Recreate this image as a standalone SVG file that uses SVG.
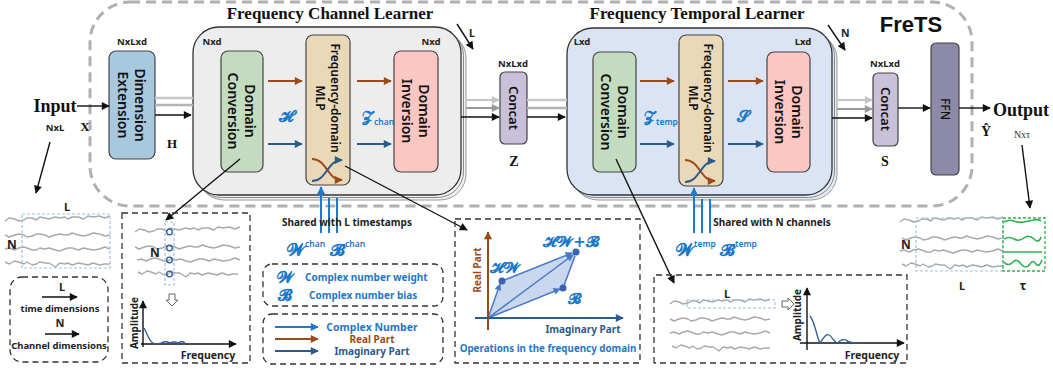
<svg xmlns="http://www.w3.org/2000/svg" width="1053" height="375" viewBox="0 0 1053 375">
<style>
.blk{font-family:"Noto Sans","Open Sans","Liberation Sans",sans-serif;font-weight:600;fill:#111}
.ttl{font-family:"Liberation Serif","DejaVu Serif",serif;font-weight:700;font-size:17px;fill:#111}
.ser{font-family:"Liberation Serif","DejaVu Serif",serif;font-weight:700;fill:#111}
.dim{font-family:"Noto Sans","Liberation Sans",sans-serif;font-weight:700;font-size:9.5px;fill:#222}
.lbl{font-family:"Noto Sans","Liberation Sans",sans-serif;font-weight:700;fill:#222}
.bl{font-family:"Noto Sans","Liberation Sans",sans-serif;font-weight:700;fill:#1f78c8}
.math{font-family:"DejaVu Sans","Noto Sans",serif;font-weight:700;fill:#1a78c8}
.sup{font-family:"Noto Sans","Liberation Sans",sans-serif;font-weight:600;font-size:8.5px;fill:#1a78c8}
.wave{fill:none;stroke:#aaa;stroke-width:1.4;stroke-linejoin:round}
.gw{fill:none;stroke:#2eb04e;stroke-width:1.6}
.dash{fill:none;stroke:#333;stroke-width:1.3;stroke-dasharray:6,4}
.bdash{fill:none;stroke:#9cc3e6;stroke-width:1.2;stroke-dasharray:3,2}
.k{stroke:#111;stroke-width:1.4;fill:none}
.br{stroke:#9c4a1a;stroke-width:2;fill:none}
.db{stroke:#2b5a8c;stroke-width:2;fill:none}
.cb{stroke:#1f78c8;stroke-width:2;fill:none}
</style>
<defs>
<marker id="mk" viewBox="0 0 10 10" refX="9" refY="5" markerWidth="10" markerHeight="8" markerUnits="userSpaceOnUse" orient="auto"><path d="M0,0L10,5L0,10z" fill="#111"/></marker>
<marker id="mg" viewBox="0 0 10 10" refX="9" refY="5" markerWidth="10" markerHeight="8" markerUnits="userSpaceOnUse" orient="auto"><path d="M0,0L10,5L0,10z" fill="#999"/></marker>
<marker id="ml" viewBox="0 0 10 10" refX="9" refY="5" markerWidth="10" markerHeight="8" markerUnits="userSpaceOnUse" orient="auto"><path d="M0,0L10,5L0,10z" fill="#c4c4c4"/></marker>
<marker id="mbr" viewBox="0 0 10 10" refX="9" refY="5" markerWidth="10" markerHeight="8" markerUnits="userSpaceOnUse" orient="auto"><path d="M0,0L10,5L0,10z" fill="#9c4a1a"/></marker>
<marker id="mdb" viewBox="0 0 10 10" refX="9" refY="5" markerWidth="10" markerHeight="8" markerUnits="userSpaceOnUse" orient="auto"><path d="M0,0L10,5L0,10z" fill="#2b5a8c"/></marker>
<marker id="mcb" viewBox="0 0 10 10" refX="9" refY="5" markerWidth="10" markerHeight="8" markerUnits="userSpaceOnUse" orient="auto"><path d="M0,0L10,5L0,10z" fill="#1f78c8"/></marker>
<marker id="mpb" viewBox="0 0 10 10" refX="9" refY="5" markerWidth="9" markerHeight="7" markerUnits="userSpaceOnUse" orient="auto"><path d="M0,0L10,5L0,10z" fill="#4a78c8"/></marker>
<path id="w1" d="M0,0 l4,-3 5,1 4,2 5,-1 3,-2 5,0 4,2 3,-3 5,1 4,1 6,-2 4,1 5,-1 3,2 4,-2 6,0 5,2 4,-3 5,1 6,-1 5,2 5,-2"/>
<path id="w2" d="M0,0 l4,2 5,-2 4,-1 5,1 3,2 5,-1 4,-2 3,0 5,1 4,2 6,-2 4,-1 5,1 3,0 4,-2 6,2 5,1 4,-1 5,-2 6,1 5,2 5,-1"/>
<path id="w3" d="M0,0 l4,-1 5,2 4,-2 5,-1 3,1 5,2 4,0 3,-2 5,1 4,-1 6,2 4,1 5,-2 3,-1 4,0 6,2 5,-2 4,1 5,1 6,-1 5,-2 5,2"/>
<path id="w4" d="M0,0 l4,2 5,-3 4,1 5,2 3,-2 5,3 4,-1 3,-2 5,1 4,0 6,4 4,-4 5,1 3,-1 4,2 6,-2 5,1 4,1 5,-2 6,2 5,-1 5,0"/>
</defs>

<rect width="1053" height="375" fill="#fff"/>

<g id="frets">
<rect x="90" y="2" width="882" height="204" rx="40" fill="none" stroke="#b0b0b0" stroke-width="3" stroke-dasharray="10,6"/>
<text x="911" y="32" text-anchor="middle" style="font-family:'Liberation Sans',sans-serif;font-weight:700;font-size:22px;fill:#111">FreTS</text>
</g>

<g id="input">
<text x="55" y="112" text-anchor="middle" class="ser" font-size="18">Input</text>
<text x="85" y="131" text-anchor="middle" class="ser" font-size="13">X</text>
<text x="55" y="131" text-anchor="middle" class="dim">NxL</text>
</g>

<g id="dimext">
<text x="132" y="45" text-anchor="middle" class="dim">NxLxd</text>
<rect x="109" y="51" width="46" height="108" rx="7" fill="#a8c8de" stroke="#444" stroke-width="1.2"/>
<text transform="translate(132,105) rotate(90)" text-anchor="middle" class="blk" font-size="14"><tspan x="0" y="-3">Dimension</tspan><tspan x="0" y="14">Extension</tspan></text>
<text x="172" y="148" text-anchor="middle" class="ser" font-size="13">H</text>
</g>

<g id="fcl">
<text x="330" y="19" text-anchor="middle" class="ttl">Frequency Channel Learner</text>
<rect x="198" y="32" width="268" height="168" rx="26" fill="#f2f2f2" stroke="#999" stroke-width="1"/>
<rect x="195.5" y="29.5" width="268" height="168" rx="26" fill="#f0f0f0" stroke="#888" stroke-width="1"/>
<rect x="193" y="27" width="268" height="168" rx="26" fill="#ededed" stroke="#333" stroke-width="1.3"/>
<text x="212" y="45" text-anchor="middle" class="dim">Nxd</text>
<text x="431" y="45" text-anchor="middle" class="dim">Nxd</text>
</g>
<g id="fcl-conv">
<rect x="221" y="51" width="42" height="121" rx="7" fill="#c3dcc0" stroke="#444" stroke-width="1.2"/>
<text transform="translate(242,111) rotate(90)" text-anchor="middle" class="blk" font-size="14"><tspan x="0" y="-3">Domain</tspan><tspan x="0" y="14">Conversion</tspan></text>
</g>
<g id="fcl-mlp">
<rect x="306" y="35" width="44" height="150" rx="7" fill="#ead9b8" stroke="#444" stroke-width="1.2"/>
<text transform="translate(328,98) rotate(90)" text-anchor="middle" class="blk" font-size="12"><tspan x="0" y="-3">Frequency-domain</tspan><tspan x="0" y="12">MLP</tspan></text>
<path d="M312,159 C327,159 327,180 342,180" class="br" stroke-width="1.8" marker-end="url(#mbr)"/>
<path d="M312,181 C327,181 327,160 342,160" class="db" stroke-width="1.8" marker-end="url(#mdb)"/>
</g>
<g id="fcl-inv">
<rect x="394" y="51" width="44" height="121" rx="7" fill="#fcc7c3" stroke="#444" stroke-width="1.2"/>
<text transform="translate(416,111) rotate(90)" text-anchor="middle" class="blk" font-size="14"><tspan x="0" y="-3">Domain</tspan><tspan x="0" y="14">Inversion</tspan></text>
</g>
<g id="fcl-labels">
<text x="286" y="122" text-anchor="middle" class="math" font-size="16">𝓗</text>
<text x="362" y="122" class="math" font-size="15">𝓩</text><text x="374" y="125" class="sup">chan</text>
</g>

<g id="concatz">
<text x="513" y="67" text-anchor="middle" class="dim">NxLxd</text>
<rect x="500" y="72" width="27" height="72" rx="5" fill="#c9c1da" stroke="#444" stroke-width="1.2"/>
<text transform="translate(513,108) rotate(90)" text-anchor="middle" class="blk" font-size="13" dy="4.5">Concat</text>
<text x="514" y="166" text-anchor="middle" class="ser" font-size="14">Z</text>
</g>

<g id="ftl">
<text x="697" y="19" text-anchor="middle" class="ttl">Frequency Temporal Learner</text>
<rect x="572" y="33" width="265" height="167" rx="26" fill="#e6ecf6" stroke="#999" stroke-width="1"/>
<rect x="569.5" y="30.5" width="265" height="167" rx="26" fill="#e2e9f5" stroke="#888" stroke-width="1"/>
<rect x="567" y="28" width="265" height="167" rx="26" fill="#dbe4f4" stroke="#333" stroke-width="1.3"/>
<text x="582" y="45" text-anchor="middle" class="dim">Lxd</text>
<text x="803" y="45" text-anchor="middle" class="dim">Lxd</text>
</g>
<g id="ftl-conv">
<rect x="593" y="52" width="43" height="120" rx="7" fill="#c3dcc0" stroke="#444" stroke-width="1.2"/>
<text transform="translate(614.5,112) rotate(90)" text-anchor="middle" class="blk" font-size="14"><tspan x="0" y="-3">Domain</tspan><tspan x="0" y="14">Conversion</tspan></text>
</g>
<g id="ftl-mlp">
<rect x="679" y="35" width="44" height="151" rx="7" fill="#ead9b8" stroke="#444" stroke-width="1.2"/>
<text transform="translate(701,98) rotate(90)" text-anchor="middle" class="blk" font-size="12"><tspan x="0" y="-3">Frequency-domain</tspan><tspan x="0" y="12">MLP</tspan></text>
<path d="M685,160 C700,160 700,181 715,181" class="br" stroke-width="1.8" marker-end="url(#mbr)"/>
<path d="M685,182 C700,182 700,161 715,161" class="db" stroke-width="1.8" marker-end="url(#mdb)"/>
</g>
<g id="ftl-inv">
<rect x="767" y="52" width="43" height="120" rx="7" fill="#fcc7c3" stroke="#444" stroke-width="1.2"/>
<text transform="translate(788.5,112) rotate(90)" text-anchor="middle" class="blk" font-size="14"><tspan x="0" y="-3">Domain</tspan><tspan x="0" y="14">Inversion</tspan></text>
</g>
<g id="ftl-labels">
<text x="644" y="122" class="math" font-size="15">𝓩</text><text x="656" y="125" class="sup">temp</text>
<text x="743" y="122" text-anchor="middle" class="math" font-size="16">𝓢</text>
</g>

<g id="concats">
<text x="885" y="67" text-anchor="middle" class="dim">NxLxd</text>
<rect x="873" y="73" width="25" height="73" rx="5" fill="#c9c1da" stroke="#444" stroke-width="1.2"/>
<text transform="translate(885.5,109) rotate(90)" text-anchor="middle" class="blk" font-size="13" dy="4.5">Concat</text>
<text x="885" y="166" text-anchor="middle" class="ser" font-size="14">S</text>
</g>
<g id="ffn">
<rect x="931" y="43" width="28" height="132" rx="5" fill="#8c8aa8" stroke="#444" stroke-width="1.2"/>
<text transform="translate(945,109) rotate(90)" text-anchor="middle" class="blk" font-size="12" dy="4" style="font-weight:500">FFN</text>
</g>
<g id="output">
<text x="1021" y="116" text-anchor="middle" class="ser" font-size="18">Output</text>
<text x="986" y="136" text-anchor="middle" class="ser" font-size="14">Ŷ</text>
<text x="1022" y="138" text-anchor="middle" style="font-family:'Liberation Serif',serif;font-size:10px;fill:#333">Nxτ</text>
</g>

<g id="connectors">
<line x1="77" y1="106" x2="109" y2="106" class="k" marker-end="url(#mk)"/>
<line x1="155" y1="98" x2="193" y2="98" stroke="#c8c8c8" stroke-width="2.5"/>
<line x1="155" y1="105" x2="193" y2="105" stroke="#b4b4b4" stroke-width="2.5"/>
<line x1="155" y1="115" x2="191" y2="115" class="k" marker-end="url(#mk)"/>
<line x1="268" y1="81" x2="302" y2="81" class="br" marker-end="url(#mbr)"/>
<line x1="357" y1="81" x2="391" y2="81" class="br" marker-end="url(#mbr)"/>
<line x1="268" y1="144" x2="302" y2="144" class="db" marker-end="url(#mdb)"/>
<line x1="357" y1="144" x2="391" y2="144" class="db" marker-end="url(#mdb)"/>
<line x1="466" y1="100" x2="499" y2="100" stroke="#c4c4c4" stroke-width="2" marker-end="url(#ml)"/>
<line x1="466" y1="108" x2="499" y2="108" stroke="#999" stroke-width="2" marker-end="url(#mg)"/>
<line x1="461" y1="117" x2="499" y2="117" class="k" marker-end="url(#mk)"/>
<line x1="527" y1="100" x2="567" y2="100" stroke="#c8c8c8" stroke-width="2.5"/>
<line x1="527" y1="108" x2="567" y2="108" stroke="#b4b4b4" stroke-width="2.5"/>
<line x1="527" y1="117" x2="565" y2="117" class="k" marker-end="url(#mk)"/>
<line x1="640" y1="81" x2="674" y2="81" class="br" marker-end="url(#mbr)"/>
<line x1="728" y1="81" x2="763" y2="81" class="br" marker-end="url(#mbr)"/>
<line x1="640" y1="144" x2="674" y2="144" class="db" marker-end="url(#mdb)"/>
<line x1="728" y1="144" x2="763" y2="144" class="db" marker-end="url(#mdb)"/>
<line x1="837" y1="100" x2="872" y2="100" stroke="#c4c4c4" stroke-width="2" marker-end="url(#ml)"/>
<line x1="837" y1="109" x2="872" y2="109" stroke="#999" stroke-width="2" marker-end="url(#mg)"/>
<line x1="832" y1="118" x2="872" y2="118" class="k" marker-end="url(#mk)"/>
<line x1="898" y1="108" x2="930" y2="108" class="k" marker-end="url(#mk)"/>
<line x1="959" y1="108" x2="990" y2="108" class="k" marker-end="url(#mk)"/>
<line x1="457" y1="24" x2="473" y2="49" class="k" marker-end="url(#mk)"/>
<text x="469" y="37" class="lbl" font-size="10.5">L</text>
<line x1="828" y1="25" x2="845" y2="50" class="k" marker-end="url(#mk)"/>
<text x="841" y="37" class="lbl" font-size="10.5">N</text>
<line x1="321" y1="233" x2="321" y2="187" class="cb" marker-end="url(#mcb)"/>
<line x1="329" y1="233" x2="329" y2="198" class="cb"/>
<line x1="337" y1="233" x2="337" y2="198" class="cb"/>
<line x1="694" y1="233" x2="694" y2="188" class="cb" marker-end="url(#mcb)"/>
<line x1="702" y1="233" x2="702" y2="199" class="cb"/>
<line x1="710" y1="233" x2="710" y2="199" class="cb"/>
<line x1="50" y1="142" x2="36" y2="193" class="k" marker-end="url(#mk)"/>
<line x1="240" y1="159" x2="166" y2="220" class="k" marker-end="url(#mk)"/>
<line x1="345" y1="166" x2="467" y2="230" class="k" marker-end="url(#mk)"/>
<line x1="616" y1="159" x2="674" y2="283" class="k" marker-end="url(#mk)"/>
<line x1="1022" y1="145" x2="1030" y2="208" class="k" marker-end="url(#mk)"/>
</g>

<g id="shared-chan">
<text x="347" y="226" text-anchor="middle" class="lbl" font-size="10">Shared with L timestamps</text>
<text x="287" y="256" class="math" font-size="17">𝓦</text><text x="305" y="247" class="sup">chan</text>
<text x="330" y="256" class="math" font-size="17">𝓑</text><text x="345" y="247" class="sup">chan</text>
</g>
<g id="shared-temp">
<text x="772" y="226" text-anchor="middle" class="lbl" font-size="10">Shared with N channels</text>
<text x="676" y="256" class="math" font-size="17">𝓦</text><text x="694" y="247" class="sup">temp</text>
<text x="720" y="256" class="math" font-size="17">𝓑</text><text x="735" y="247" class="sup">temp</text>
</g>

<g id="legend-wb">
<rect x="263" y="264" width="180" height="42" rx="9" class="dash"/>
<text x="285" y="283" text-anchor="middle" class="math" font-size="16">𝓦</text>
<text x="305" y="281" class="bl" font-size="10">Complex number weight</text>
<text x="285" y="301" text-anchor="middle" class="math" font-size="16">𝓑</text>
<text x="309" y="299" class="bl" font-size="10">Complex number bias</text>
</g>
<g id="legend-parts">
<rect x="263" y="314" width="180" height="50" rx="9" class="dash"/>
<line x1="275" y1="327" x2="318" y2="327" class="cb" marker-end="url(#mcb)"/>
<text x="372" y="331" text-anchor="middle" class="bl" font-size="10.5">Complex Number</text>
<line x1="275" y1="339" x2="318" y2="339" class="br" marker-end="url(#mbr)"/>
<text x="372" y="343" text-anchor="middle" class="lbl" font-size="10" style="fill:#9c4a1a">Real Part</text>
<line x1="275" y1="351" x2="318" y2="351" class="db" marker-end="url(#mdb)"/>
<text x="372" y="355" text-anchor="middle" class="lbl" font-size="10" style="fill:#2b5a8c">Imaginary Part</text>
</g>
<g id="legend-dims">
<rect x="10" y="277" width="98" height="85" rx="12" class="dash"/>
<text x="62" y="291" text-anchor="middle" class="lbl" font-size="11">L</text>
<line x1="42" y1="297" x2="77" y2="297" class="k" marker-end="url(#mk)"/>
<text x="60" y="312" text-anchor="middle" class="lbl" font-size="9.5">time dimensions</text>
<text x="60" y="327" text-anchor="middle" class="lbl" font-size="11">N</text>
<line x1="45" y1="334" x2="79" y2="334" class="k" marker-end="url(#mk)"/>
<text x="59" y="349" text-anchor="middle" class="lbl" font-size="9.5">Channel dimensions</text>
</g>

<g id="input-series">
<text x="67" y="211" text-anchor="middle" class="lbl" font-size="11">L</text>
<use href="#w1" class="wave" transform="translate(5,221) scale(1.05,1)"/>
<use href="#w2" class="wave" transform="translate(5,235) scale(1.05,1)"/>
<use href="#w3" class="wave" transform="translate(5,249) scale(1.05,1)"/>
<use href="#w4" class="wave" transform="translate(5,262) scale(1.05,1)"/>
<rect x="22" y="214" width="88" height="54" class="bdash"/>
<text x="12" y="249" text-anchor="middle" class="lbl" font-size="12">N</text>
</g>

<g id="chan-panel">
<rect x="122" y="213" width="128" height="150" class="dash"/>
<use href="#w1" class="wave" transform="translate(135,232) scale(1.05,1)"/>
<use href="#w2" class="wave" transform="translate(135,247) scale(1.05,1)"/>
<use href="#w3" class="wave" transform="translate(137,260) scale(1.03,1)"/>
<use href="#w4" class="wave" transform="translate(138,272) scale(1.0,1)"/>
<rect x="165" y="222" width="9" height="63" class="bdash"/>
<g fill="none" stroke="#2b5a9c" stroke-width="1.3">
<circle cx="169.5" cy="232" r="2.8"/><circle cx="169.5" cy="248" r="2.8"/><circle cx="169.5" cy="260" r="2.8"/><circle cx="169.5" cy="274" r="2.8"/>
</g>
<text x="155" y="257" text-anchor="middle" class="lbl" font-size="12">N</text>
<path d="M169,294 h6 v6 h3 l-6,6 l-6,-6 h3 z" fill="#fff" stroke="#666" stroke-width="1"/>
<line x1="143" y1="347" x2="143" y2="301" class="k" marker-end="url(#mk)"/>
<line x1="141" y1="344" x2="236" y2="344" class="k" marker-end="url(#mk)"/>
<text transform="translate(138,323) rotate(-90)" text-anchor="middle" class="lbl" font-size="10">Amplitude</text>
<text x="208" y="359" text-anchor="middle" class="lbl" font-size="10.5">Frequency</text>
<path d="M144,328 C147,333 149,341 153,343 q4,1.5 8,0 q5,-2.5 9,0 q4,-2 8,0 q4,-2.5 7,0" fill="none" stroke="#2b5a9c" stroke-width="1.3"/>
</g>

<g id="ops-panel">
<rect x="455" y="219" width="185" height="144" class="dash"/>
<polygon points="488,318 502,281 576,252 563,288" fill="#c9d7ef" stroke="none"/>
<line x1="488" y1="318" x2="500" y2="284" stroke="#4a78c8" stroke-width="1.5" marker-end="url(#mpb)"/>
<line x1="488" y1="318" x2="560" y2="289" stroke="#4a78c8" stroke-width="1.5" marker-end="url(#mpb)"/>
<line x1="488" y1="318" x2="573" y2="255" stroke="#4a78c8" stroke-width="1.5" marker-end="url(#mpb)"/>
<line x1="502" y1="281" x2="572" y2="253" stroke="#4a78c8" stroke-width="1.5" marker-end="url(#mpb)"/>
<line x1="563" y1="288" x2="575" y2="256" stroke="#4a78c8" stroke-width="1.5"/>
<line x1="488" y1="330" x2="488" y2="232" class="br" marker-end="url(#mbr)"/>
<line x1="475" y1="318" x2="623" y2="318" class="db" marker-end="url(#mdb)"/>
<g fill="#3a64b0"><circle cx="502" cy="281" r="3.5"/><circle cx="563" cy="288" r="3.5"/><circle cx="576" cy="252" r="3.5"/></g>
<text transform="translate(481,270) rotate(-90)" text-anchor="middle" class="lbl" font-size="10" style="fill:#9c4a1a">Real Part</text>
<text x="583" y="333" text-anchor="middle" class="lbl" font-size="10" style="fill:#2b5a8c">Imaginary Part</text>
<text x="490" y="273" class="math" font-size="15">𝓗𝓦</text>
<text x="568" y="304" class="math" font-size="15">𝓑</text>
<text x="571" y="247" text-anchor="middle" class="math" font-size="15">𝓗𝓦+𝓑</text>
<text x="548" y="352" text-anchor="middle" class="bl" font-size="9.8">Operations in the frequency domain</text>
</g>

<g id="temp-panel">
<path d="M654,363 V275 H907 V363 H654" class="dash"/>
<text x="727" y="298" text-anchor="middle" class="lbl" font-size="11">L</text>
<use href="#w1" class="wave" transform="translate(670,304)"/>
<use href="#w2" class="wave" transform="translate(670,319)"/>
<use href="#w3" class="wave" transform="translate(670,333)"/>
<use href="#w4" class="wave" transform="translate(672,346) scale(0.98,1)"/>
<rect x="687" y="300" width="88" height="8" class="bdash"/>
<path d="M782,301 h6 v-3 l6,6 l-6,6 v-3 h-6 z" fill="#fff" stroke="#666" stroke-width="1"/>
<line x1="807" y1="350" x2="807" y2="288" class="k" marker-end="url(#mk)"/>
<line x1="800" y1="343" x2="904" y2="343" class="k" marker-end="url(#mk)"/>
<text transform="translate(801,315) rotate(-90)" text-anchor="middle" class="lbl" font-size="10">Amplitude</text>
<text x="872" y="359" text-anchor="middle" class="lbl" font-size="10.5">Frequency</text>
<path d="M810,316 C815,322 817,338 820,343 C823,339 826,333 829,335 C832,336 834,343 838,343 C840,340 843,339 846,340 C848,342 850,343 858,343" fill="none" stroke="#2b5a9c" stroke-width="1.3"/>
</g>

<g id="output-series">
<use href="#w1" class="wave" transform="translate(900,222) scale(1.03,1)"/>
<use href="#w2" class="wave" transform="translate(902,238) scale(1.01,1)"/>
<use href="#w3" class="wave" transform="translate(900,251) scale(1.03,1)"/>
<use href="#w4" class="wave" transform="translate(902,264) scale(1.01,1)"/>
<rect x="916" y="218" width="87" height="53" class="bdash"/>
<path d="M1004,222 q5,-3 10,-1 t10,1 t10,-2 t7,1" class="gw"/>
<path d="M1004,239 q5,-3 10,0 t10,-1 t10,1 t7,-2" class="gw"/>
<path d="M1004,252 h38" class="gw"/>
<path d="M1004,262 q4,5 9,0 q4,-4 8,2 q5,6 9,0 q3,-5 6,0 q3,4 6,-4" class="gw"/>
<rect x="1003" y="218" width="42" height="53" fill="none" stroke="#2db34a" stroke-width="1.3" stroke-dasharray="3,2"/>
<text x="906" y="249" text-anchor="middle" class="lbl" font-size="12">N</text>
<text x="962" y="290" text-anchor="middle" class="lbl" font-size="11">L</text>
<text x="1023" y="290" text-anchor="middle" class="lbl" font-size="12">τ</text>
</g>
</svg>
